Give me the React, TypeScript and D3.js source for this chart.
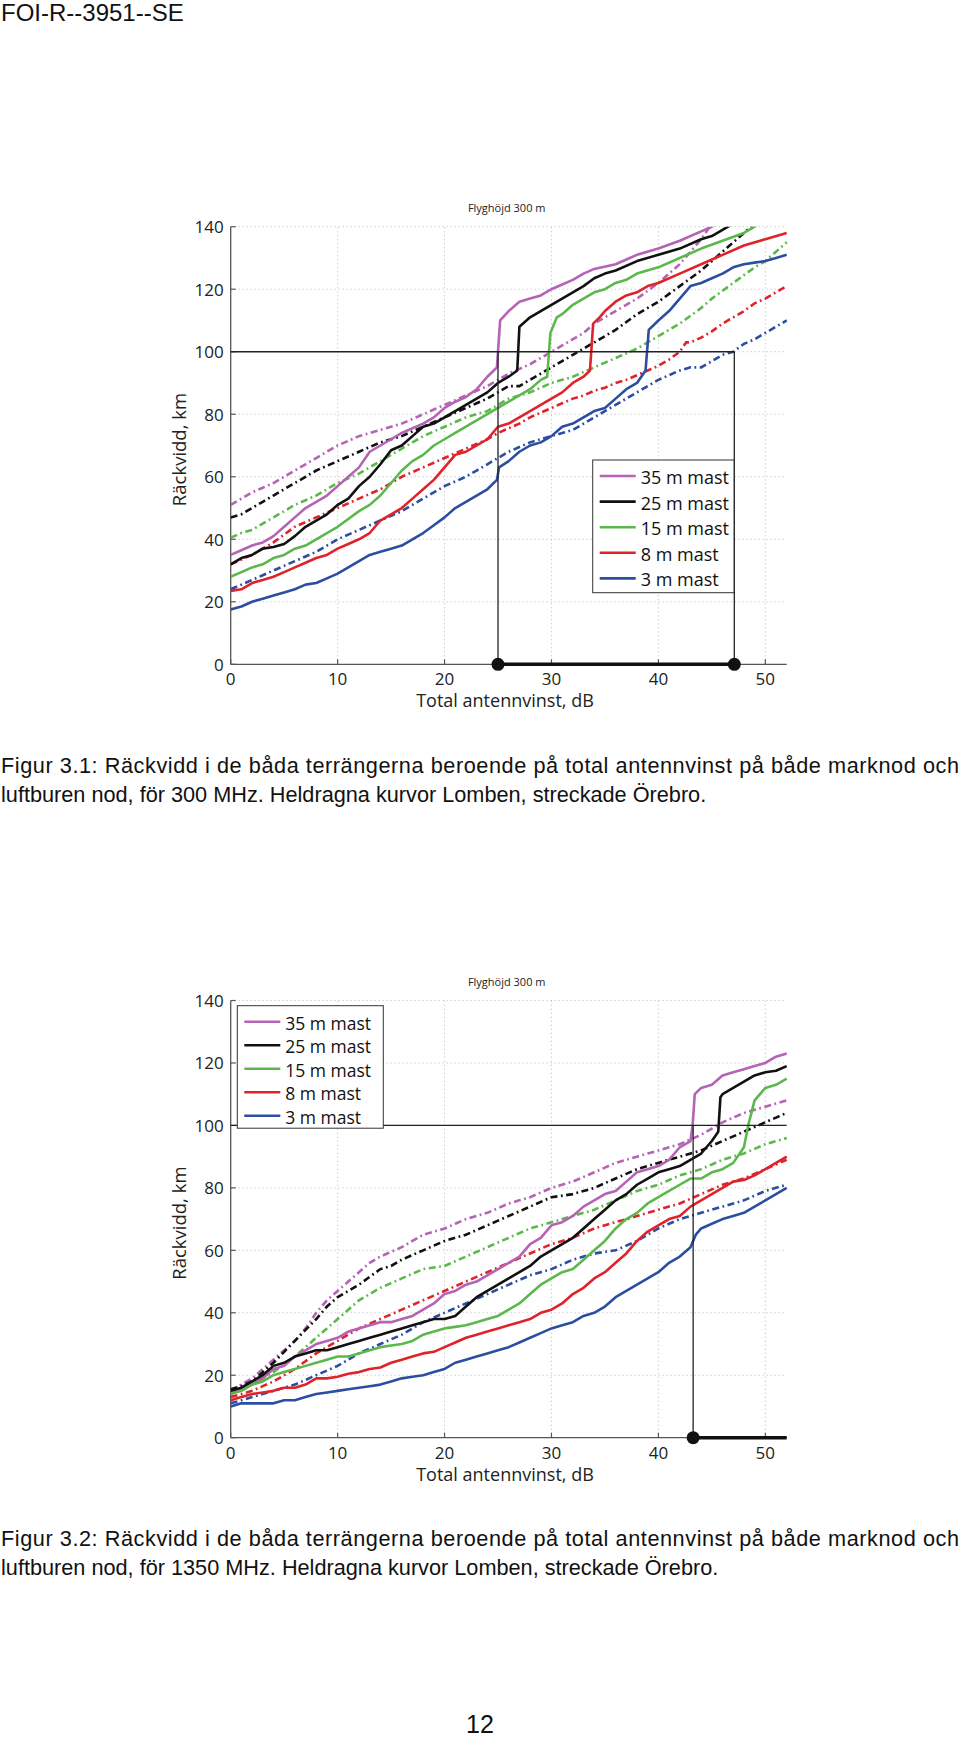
import React from "react";
import * as d3 from "d3";

// ---------- tick labels / categories ----------
const GAIN_TICKS = [0, 10, 20, 30, 40, 50];
const RANGE_TICKS = [0, 20, 40, 60, 80, 100, 120, 140];
const LEGEND_LABELS = ["35 m mast", "25 m mast", "15 m mast", "8 m mast", "3 m mast"];
const PAGE_HEADER = "FOI-R--3951--SE";
const CHART_TITLE = "Flyghöjd 300 m";
const X_TITLE = "Total antennvinst, dB";
const Y_TITLE = "Räckvidd, km";
const CAPTION_1 = [
  "Figur 3.1: Räckvidd i de båda terrängerna beroende på total antennvinst på både marknod och",
  "luftburen nod, för 300 MHz. Heldragna kurvor Lomben, streckade Örebro.",
];
const CAPTION_2 = [
  "Figur 3.2: Räckvidd i de båda terrängerna beroende på total antennvinst på både marknod och",
  "luftburen nod, för 1350 MHz. Heldragna kurvor Lomben, streckade Örebro.",
];
const PAGE_NUMBER = "12";

// ---------- 300 MHz : Lomben (solid) [gain dB, range km] ----------
const lomben300_35 = [[0,35],[1,36.5],[2,38],[3,39],[4,41],[5,44],[6,47],[7,50],[8,52],[9,54],[10,57],[11,60],[12,63],[13,68],[14,70],[15,72],[16,74],[17,75.5],[18,77],[19,79],[20,82],[21,84],[22,85.5],[23,88],[24,92],[24.9,95],[25.2,110],[26,113],[27,116],[28,117],[29,118],[30,120],[31,121.5],[32,123],[33,125],[34,126.5],[36,128],[38,131],[40,133],[42,135.5],[44,138.5],[45,140],[46,142]];
const lomben300_25 = [[0,32],[1,34],[2,35],[3,37],[4,37.5],[5,38.5],[6,41],[7,44],[8,46],[9,48],[10,51],[11,53],[12,57],[13,60],[14,64],[15,68.5],[16,70],[17,73],[18,76],[19,77],[20,79],[21,81],[22,83],[23,85],[24,87],[25,90],[26,92],[26.8,94],[27,108],[28,111],[29,113],[30,115],[31,117],[32,119],[33,121],[34,123.5],[35,125],[36,126],[38,129],[40,131],[42,133],[44,136],[45,137],[46,139],[47,141]];
const lomben300_15 = [[0,28],[1,29.5],[2,31],[3,32],[4,34],[5,35],[6,37],[7,38],[8,40],[9,42],[10,44],[11,46.5],[12,49],[13,51],[14,54],[15,58],[16,62],[17,65],[18,67],[19,70],[20,72],[21,74],[22,76],[23,78],[24,80],[25,82],[26,84],[27,86],[28,88],[29,91],[29.6,92],[29.9,106],[30.5,111],[31,112],[32,115],[33,117],[34,119],[35,120],[36,122],[37,123],[38,125],[40,127],[42,130],[44,133],[46,135.5],[48,138],[49,140],[49.5,141]];
const lomben300_8 = [[0,23.5],[1,24],[2,26],[3,27],[4,28],[5,29.5],[6,31],[7,32.5],[8,34],[9,35],[10,37],[11,38.5],[12,40],[13,42],[14,46],[15,48],[16,50],[17,53],[18,56],[19,59],[20,63],[21,67],[22,68],[23,70],[24,72],[25,76],[26,77],[27,79],[28,81],[29,83],[30,85],[31,87],[32,90],[33,92],[33.6,94],[33.9,109],[34.5,111],[35,113],[36,116],[37,118],[38,119],[39,121],[40,122],[42,125],[44,128],[46,131],[48,134],[50,136],[52,138]];
const lomben300_3 = [[0,17.5],[1,18.5],[2,20],[3,21],[4,22],[5,23],[6,24],[7,25.5],[8,26],[9,27.5],[10,29],[11,31],[12,33],[13,35],[14,36],[15,37],[16,38],[17,40],[18,42],[19,44.5],[20,47],[21,50],[22,52],[23,54],[24,56],[24.9,59],[25.1,63],[26,65],[27,68],[28,70],[29,71],[30,73],[31,76],[32,77],[33,79],[34,81],[35,82],[36,85],[37,88],[38,90],[38.8,94],[39.1,107],[40,110],[41,113],[42,117],[43,121],[44,122],[45,123.5],[46,125],[47,127],[48,128],[49,128.5],[50,129],[51,130],[52,131]];

// ---------- 300 MHz : Örebro (dash-dot) ----------
const orebro300_35 = [[0,51],[1,53],[2,55],[3,56.5],[4,58],[5,60],[6,62],[7,64],[8,66],[9,68],[10,70],[11,71.5],[12,73],[13,74],[14,75],[15,76],[16,77],[17,78.5],[18,80],[19,81.5],[20,83],[21,84.5],[22,86],[23,87.5],[24,89],[25,91],[26,93],[27,94.5],[28,96],[29,98],[30,100],[31,102],[32,104],[33,106],[34,109],[35,111],[36,113],[37,115],[38,117],[39,119.5],[40,122],[41,125],[42,128],[43,132],[44,136],[45,141]];
const orebro300_25 = [[0,47],[1,48],[2,50],[3,52],[4,54],[5,56],[6,58],[7,60],[8,62],[9,63.5],[10,65],[11,66.5],[12,68],[13,69.5],[14,71],[15,72],[16,73],[17,74.5],[18,76],[19,77.5],[20,79],[21,80.5],[22,82],[23,83.5],[24,85],[25,87],[26,89],[27,89],[28,91],[29,93],[30,95],[31,97],[32,99],[33,101],[34,103],[35,105],[36,107],[37,109.5],[38,112],[39,114],[40,116],[41,118.5],[42,121],[43,123.5],[44,126],[45,129],[46,132],[47,135],[48,138],[49,141]];
const orebro300_15 = [[0,40.5],[1,42],[2,43],[3,45],[4,47],[5,49],[6,51],[7,52.5],[8,54],[9,56],[10,58],[11,59.5],[12,61],[13,63],[14,65],[15,67],[16,69],[17,71],[18,73],[19,74.5],[20,76],[21,77.5],[22,79],[23,80],[24,81],[25,83],[26,85],[27,86],[28,87],[29,88.5],[30,90],[31,91],[32,92],[33,93.5],[34,95],[35,96.5],[36,98],[37,99.5],[38,101],[39,103],[40,105],[41,107],[42,109],[43,111.5],[44,114],[45,117],[46,119.5],[47,122],[48,124.5],[49,127],[50,129],[51,132],[52,135]];
const orebro300_8 = [[0,32],[1,33.5],[2,35],[3,37],[4,39],[5,41.5],[6,44],[7,45.5],[8,47],[9,48.5],[10,50],[11,51.5],[12,53],[13,54.5],[14,56],[15,58],[16,60],[17,61.5],[18,63],[19,64.5],[20,66],[21,67.5],[22,69],[23,70.5],[24,72],[25,74],[26,75.5],[27,77],[28,79],[29,80.5],[30,82],[31,83.5],[32,85],[33,86],[34,87.5],[35,88.5],[36,90],[37,91],[38,92.5],[39,94],[40,95.5],[41,97.5],[42,100],[42.6,103],[43,103],[44,104.5],[45,106.5],[46,109],[47,111],[48,113],[49,115.5],[50,117],[51,119],[52,121]];
const orebro300_3 = [[0,24],[1,25.5],[2,27],[3,28.5],[4,30],[5,31.5],[6,33],[7,34.5],[8,36],[9,38],[10,40],[11,41.5],[12,43],[13,44.5],[14,46],[15,47.5],[16,49],[17,51],[18,53],[19,55],[20,57],[21,58.5],[22,60],[23,62],[24,64],[25,66],[26,68],[27,69.5],[28,71],[29,72],[30,73],[31,74],[32,75],[33,77],[34,79],[35,81],[36,83],[37,85],[38,87],[39,89],[40,91],[41,92.5],[42,94],[43,95],[44,95],[45,97],[46,99],[47,100],[48,102.5],[49,104],[50,106],[51,108],[52,110]];

// ---------- 1350 MHz : Lomben (solid) ----------
const lomben1350_35 = [[0,14],[1,16],[2,17],[3,19],[4,22],[5,23],[6,26],[7,28],[8,30],[9,31],[10,32],[11,34],[12,35],[13,36],[14,37],[15,37],[16,38],[17,39],[18,41],[19,43],[20,46],[21,47],[22,49],[23,50],[24,52],[25,54],[26,56],[27,58],[28,62],[29,64],[30,68],[31,69],[32,71],[33,74],[34,76],[35,78],[36,79],[37,82],[38,85],[39,86],[40,87],[41,89],[42,93],[43,95],[43.2,100],[43.4,110],[44,112],[45,113],[46,116],[47,117],[48,118],[49,119],[50,120],[51,122],[52,123]];
const lomben1350_25 = [[0,15],[1,16],[2,18],[3,20],[4,23],[5,24],[6,26],[7,27],[8,28],[9,28],[10,29],[11,30],[12,31],[13,32],[14,33],[15,34],[16,35],[17,36],[18,37],[19,38],[20,38],[21,39],[22,42],[23,45],[24,47],[25,49],[26,51],[27,53],[28,55],[29,58],[30,60],[31,62],[32,64],[33,67],[34,70],[35,73],[36,76],[37,78],[38,81],[39,83],[40,85],[41,86],[42,87],[43,89],[44,91],[45,95],[45.6,98],[45.8,109],[46,110],[47,112],[48,114],[49,116],[50,117],[51,117.5],[52,119]];
const lomben1350_15 = [[0,14],[1,15],[2,17],[3,18],[4,20],[5,21],[6,22],[7,23],[8,24],[9,25],[10,26],[11,26],[12,27],[13,28],[14,29],[15,29.5],[16,30],[17,31],[18,33],[19,34],[20,35],[21,35.5],[22,36],[23,37],[24,38],[25,39],[26,41],[27,43],[28,46],[29,49],[30,51],[31,53],[32,54],[33,57],[34,60],[35,63],[36,67],[37,70],[38,72],[39,75],[40,77],[41,79],[42,81],[43,83],[44,83],[45,85],[46,86],[47,88],[48,93],[48.4,100],[49,108],[50,112],[51,113],[52,115]];
const lomben1350_8 = [[0,12],[1,13],[2,14],[3,14.5],[4,15],[5,16],[6,16],[7,17],[8,19],[9,19],[10,19.5],[11,20.5],[12,21],[13,22],[14,22.5],[15,24],[16,25],[17,26],[18,27],[19,27.5],[20,29],[21,30.5],[22,32],[23,33],[24,34],[25,35],[26,36],[27,37],[28,38],[29,40],[30,41],[31,43],[32,46],[33,48],[34,51],[35,53],[36,56],[37,59],[38,63],[39,66],[40,68],[41,70],[42,71],[43,74],[44,76],[45,78],[46,80],[47,82],[48,82.5],[49,84],[50,86],[51,88],[52,90]];
const lomben1350_3 = [[0,10],[1,11],[2,11],[3,11],[4,11],[5,12],[6,12],[7,13],[8,14],[9,14.5],[10,15],[11,15.5],[12,16],[13,16.5],[14,17],[15,18],[16,19],[17,19.5],[18,20],[19,21],[20,22],[21,24],[22,25],[23,26],[24,27],[25,28],[26,29],[27,30.5],[28,32],[29,33.5],[30,35],[31,36],[32,37],[33,39],[34,40],[35,42],[36,45],[37,47],[38,49],[39,51],[40,53],[41,56],[42,58],[43,61],[43.5,65],[44,67],[45,68.5],[46,70],[47,71],[48,72],[49,74],[50,76],[51,78],[52,80]];

// ---------- 1350 MHz : Örebro (dash-dot) ----------
const orebro1350_35 = [[0,15],[1,17],[2,19],[3,22],[4,25],[5,28],[6,31],[7,35],[8,40],[9,44],[10,47],[11,50],[12,53],[13,56],[14,58],[15,59.5],[16,61],[17,63],[18,65],[19,66],[20,67],[21,68.5],[22,70],[23,71],[24,72],[25,73.5],[26,75],[27,76],[28,77],[29,78.5],[30,80],[31,81],[32,82],[33,83.5],[34,85],[35,86.5],[36,88],[37,89],[38,90],[39,91],[40,92],[41,93],[42,94],[43,95.5],[44,97],[45,99],[46,101],[47,102.5],[48,104],[49,105],[50,106],[51,107],[52,108]];
const orebro1350_25 = [[0,15.5],[1,16.5],[2,18],[3,21],[4,24],[5,27.5],[6,31],[7,34.5],[8,38],[9,42],[10,45],[11,47],[12,49],[13,51.5],[14,54],[15,55],[16,57],[17,58.5],[18,60],[19,61.5],[20,63],[21,64],[22,65],[23,66.5],[24,68],[25,69.5],[26,71],[27,72.5],[28,74],[29,75.5],[30,77],[31,77.5],[32,78],[33,79],[34,80],[35,81.5],[36,83],[37,84.5],[38,86],[39,87],[40,88],[41,89],[42,90],[43,91],[44,92],[45,93.5],[46,95],[47,96.5],[48,98],[49,99.5],[50,101],[51,102.5],[52,104]];
const orebro1350_15 = [[0,14],[1,15.5],[2,17],[3,19],[4,21],[5,23.5],[6,26],[7,29],[8,32],[9,35],[10,38],[11,41],[12,44],[13,46],[14,48],[15,49.5],[16,51],[17,52.5],[18,54],[19,54.5],[20,55],[21,56.5],[22,58],[23,59.5],[24,61],[25,62.5],[26,64],[27,65.5],[28,67],[29,68],[30,69],[31,70],[32,71],[33,72],[34,73],[35,74.5],[36,76],[37,77.5],[38,79],[39,80],[40,81],[41,82.5],[42,84],[43,85],[44,86],[45,87.5],[46,89],[47,90],[48,91],[49,92.5],[50,94],[51,95],[52,96]];
const orebro1350_8 = [[0,13],[1,14],[2,15],[3,16.5],[4,18],[5,20],[6,22],[7,24.5],[8,27],[9,29],[10,31],[11,33],[12,35],[13,36.5],[14,38],[15,39.5],[16,41],[17,42.5],[18,44],[19,45.5],[20,47],[21,48.5],[22,50],[23,51.5],[24,53],[25,54.5],[26,56],[27,57.5],[28,59],[29,60.5],[30,62],[31,63],[32,64],[33,65.5],[34,67],[35,68],[36,69],[37,70],[38,71],[39,72],[40,73],[41,74],[42,75],[43,76.5],[44,78],[45,79.5],[46,81],[47,82],[48,83],[49,84.5],[50,86],[51,87.5],[52,89]];
const orebro1350_3 = [[0,11],[1,12],[2,13],[3,14],[4,15],[5,16],[6,17],[7,18.5],[8,20],[9,21.5],[10,23],[11,25],[12,27],[13,28.5],[14,30],[15,31.5],[16,33],[17,35],[18,37],[19,38.5],[20,40],[21,41.5],[22,43],[23,44.5],[24,46],[25,47.5],[26,49],[27,50.5],[28,52],[29,53],[30,54],[31,55.5],[32,57],[33,58],[34,59],[35,59.5],[36,60],[37,61.5],[38,63],[39,65],[40,67],[41,68.5],[42,70],[43,71],[44,72],[45,73],[46,74],[47,75],[48,76],[49,77.5],[50,79],[51,80],[52,81]];

// ---------- reference markers (dB) ----------
const MARK_300 = [25, 47.1];
const MARK_1350 = [43.25];
const REF_RANGE = 100;

// ---------- styling ----------
const COLORS = ["#b563b5", "#111111", "#5cb84c", "#e0232a", "#2c4ea0"];
const CHART_FONT = "'Open Sans', 'Noto Sans', sans-serif";
const TEXT_FONT = "'Liberation Sans', Arial, Helvetica, sans-serif";

const X_DOMAIN = [0, 52];
const PLOT_LEFT = 230.7;
const PLOT_RIGHT = 786.7;

type Pt = number[];

function Chart(props: {
  id: string;
  top: number;
  bottom: number;
  solid: Pt[][];
  dashed: Pt[][];
  marks: number[];
  hLineToEnd: boolean;
  legend: { x: number; y: number; w: number; h: number; row0: number; rowStep: number; fs: number };
}) {
  const { id, top, bottom, solid, dashed, marks, hLineToEnd, legend } = props;
  const x = d3.scaleLinear().domain(X_DOMAIN).range([PLOT_LEFT, PLOT_RIGHT]);
  const y = d3.scaleLinear().domain([0, 140]).range([bottom, top]);
  const line = d3
    .line<Pt>()
    .x((d) => x(d[0]))
    .y((d) => y(d[1]));
  const grid = "#b9b9b9";
  const axisCol = "#555";
  const midX = (PLOT_LEFT + PLOT_RIGHT) / 2;
  const hEnd = hLineToEnd ? X_DOMAIN[1] : marks[marks.length - 1];
  const markEnd = marks.length > 1 ? marks[marks.length - 1] : X_DOMAIN[1];
  return (
    <g>
      <defs>
        <clipPath id={id}>
          <rect x={PLOT_LEFT} y={top} width={PLOT_RIGHT - PLOT_LEFT + 2} height={bottom - top} />
        </clipPath>
      </defs>
      {/* grid */}
      {GAIN_TICKS.filter((t) => t > 0).map((t) => (
        <line key={"gx" + t} x1={x(t)} x2={x(t)} y1={y(0)} y2={y(140)} stroke={grid} strokeWidth={1} strokeDasharray="1,3" />
      ))}
      {RANGE_TICKS.filter((t) => t > 0).map((t) => (
        <line key={"gy" + t} x1={x(0)} x2={x(52)} y1={y(t)} y2={y(t)} stroke={grid} strokeWidth={1} strokeDasharray="1,3" />
      ))}
      {/* axes */}
      <line x1={x(0)} x2={x(0)} y1={y(0)} y2={y(140)} stroke={axisCol} strokeWidth={1.3} />
      <line x1={x(0)} x2={x(52)} y1={y(0)} y2={y(0)} stroke={axisCol} strokeWidth={1.3} />
      {RANGE_TICKS.map((t) => (
        <line key={"ty" + t} x1={x(0)} x2={x(0) + 5} y1={y(t)} y2={y(t)} stroke={axisCol} strokeWidth={1.2} />
      ))}
      {GAIN_TICKS.map((t) => (
        <line key={"tx" + t} x1={x(t)} x2={x(t)} y1={y(0)} y2={y(0) - 5} stroke={axisCol} strokeWidth={1.2} />
      ))}
      {RANGE_TICKS.map((t) => (
        <text key={"ly" + t} x={x(0) - 7} y={y(t)} textAnchor="end" dominantBaseline="central" fontFamily={CHART_FONT} fontSize={17} fill="#222">
          {t}
        </text>
      ))}
      {GAIN_TICKS.map((t) => (
        <text key={"lx" + t} x={x(t)} y={y(0) + 21} textAnchor="middle" fontFamily={CHART_FONT} fontSize={17} fill="#222">
          {t}
        </text>
      ))}
      <text x={505} y={y(0) + 43} textAnchor="middle" fontFamily={CHART_FONT} fontSize={18} fill="#222">
        {X_TITLE}
      </text>
      <text
        transform={`translate(178,${(top + bottom) / 2 + 4}) rotate(-90)`}
        textAnchor="middle"
        dominantBaseline="central"
        fontFamily={CHART_FONT}
        fontSize={18.5}
        fill="#222"
      >
        {Y_TITLE}
      </text>
      <text x={midX - 2} y={top - 15} textAnchor="middle" fontFamily={CHART_FONT} fontSize={11} fill="#222">
        {CHART_TITLE}
      </text>
      {/* series */}
      <g clipPath={`url(#${id})`}>
        {dashed.map((s, i) => (
          <path key={"d" + i} d={line(s) || ""} fill="none" stroke={COLORS[i]} strokeWidth={2.6} strokeDasharray="7,3.5,1.8,3.5" />
        ))}
        {solid.map((s, i) => (
          <path key={"s" + i} d={line(s) || ""} fill="none" stroke={COLORS[i]} strokeWidth={2.6} strokeLinejoin="round" />
        ))}
      </g>
      {/* reference lines */}
      <line x1={x(0)} x2={x(hEnd)} y1={y(REF_RANGE)} y2={y(REF_RANGE)} stroke="#222" strokeWidth={1.3} />
      {marks.map((m) => (
        <line key={"v" + m} x1={x(m)} x2={x(m)} y1={y(REF_RANGE)} y2={y(0)} stroke="#222" strokeWidth={1.3} />
      ))}
      <line x1={x(marks[0])} x2={x(markEnd)} y1={y(0)} y2={y(0)} stroke="#111" strokeWidth={3.5} />
      {marks.map((m) => (
        <circle key={"c" + m} cx={x(m)} cy={y(0)} r={6.5} fill="#111" />
      ))}
      {/* legend */}
      <rect x={legend.x} y={legend.y} width={legend.w} height={legend.h} fill="#fff" stroke="#333" strokeWidth={1} />
      {LEGEND_LABELS.map((lab, i) => {
        const ly = legend.row0 + i * legend.rowStep;
        return (
          <g key={lab}>
            <line x1={legend.x + 7} x2={legend.x + 43} y1={ly} y2={ly} stroke={COLORS[i]} strokeWidth={2.6} />
            <text x={legend.x + 48} y={ly + 1} dominantBaseline="central" fontFamily={CHART_FONT} fontSize={legend.fs} fill="#111">
              {lab}
            </text>
          </g>
        );
      })}
    </g>
  );
}

export default function App() {
  return (
    <svg
      width={960}
      height={1738}
      viewBox="0 0 960 1738"
      style={{ position: "absolute", left: 0, top: 0, background: "#fff" }}
    >
      <rect x={0} y={0} width={960} height={1738} fill="#fff" />
      <text x={1} y={21} fontFamily={TEXT_FONT} fontSize={24} fill="#111">
        {PAGE_HEADER}
      </text>
      <Chart
        id="clip300"
        top={226.7}
        bottom={664.3}
        solid={[lomben300_35, lomben300_25, lomben300_15, lomben300_8, lomben300_3]}
        dashed={[orebro300_35, orebro300_25, orebro300_15, orebro300_8, orebro300_3]}
        marks={MARK_300}
        hLineToEnd={false}
        legend={{ x: 592.7, y: 460, w: 141.3, h: 132.7, row0: 476, rowStep: 25.6, fs: 18 }}
      />
      <text x={1} y={773} fontFamily={TEXT_FONT} fontSize={21.7} fill="#111" textLength={958} lengthAdjust="spacing">
        {CAPTION_1[0]}
      </text>
      <text x={1} y={801.5} fontFamily={TEXT_FONT} fontSize={21.7} fill="#111">
        {CAPTION_1[1]}
      </text>
      <Chart
        id="clip1350"
        top={1000.5}
        bottom={1437.7}
        solid={[lomben1350_35, lomben1350_25, lomben1350_15, lomben1350_8, lomben1350_3]}
        dashed={[orebro1350_35, orebro1350_25, orebro1350_15, orebro1350_8, orebro1350_3]}
        marks={MARK_1350}
        hLineToEnd={true}
        legend={{ x: 237.3, y: 1005.7, w: 146, h: 122.5, row0: 1021.7, rowStep: 23.5, fs: 17.5 }}
      />
      <text x={1} y={1545.5} fontFamily={TEXT_FONT} fontSize={21.7} fill="#111" textLength={958} lengthAdjust="spacing">
        {CAPTION_2[0]}
      </text>
      <text x={1} y={1574.5} fontFamily={TEXT_FONT} fontSize={21.7} fill="#111">
        {CAPTION_2[1]}
      </text>
      <text x={480} y={1733} textAnchor="middle" fontFamily={TEXT_FONT} fontSize={25} fill="#111">
        {PAGE_NUMBER}
      </text>
    </svg>
  );
}
